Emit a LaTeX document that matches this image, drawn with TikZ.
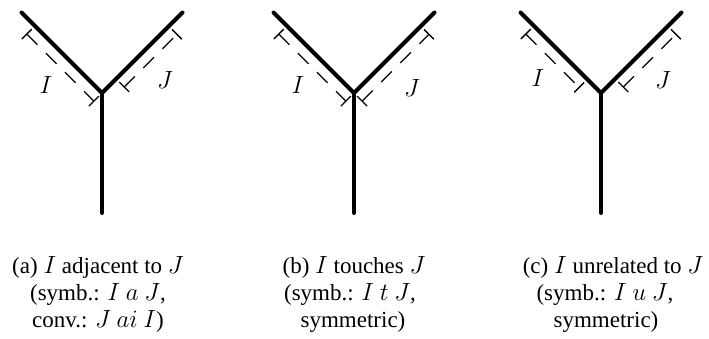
\documentclass[tikz,border=0pt]{standalone}
\usepackage{fontspec}
\setmainfont{Liberation Serif}
\usetikzlibrary{calc}
\tikzset{
  arm/.style={line width=4pt, line cap=round, line join=round},
  ivline/.style={line width=1.3pt, dash pattern=on 15pt off 12pt},
  ivtick/.style={line width=1.3pt},
  lbl/.style={inner sep=0pt, font=\fontsize{24}{24.5}\selectfont},
  captext/.style={inner sep=0pt, anchor=base, font=\fontsize{23}{27}\selectfont},
}
\newcommand\ivl[4]{%
  \coordinate (s1) at ($(#1)!#3!(#2)$);
  \coordinate (s2) at ($(#1)!#4!(#2)$);
  \coordinate (oa) at ($(#1)!4.5pt!-90:(#2)$);
  \coordinate (ob) at ($(#1)!11.5pt!-90:(#2)$);
  \coordinate (oc) at ($(#1)!18.5pt!-90:(#2)$);
  \draw[ivline] ($(s1)+(ob)-(#1)$) -- ($(s2)+(ob)-(#1)$);
  \draw[ivtick] ($(s1)+(oa)-(#1)$) -- ($(s1)+(oc)-(#1)$);
  \draw[ivtick] ($(s2)+(oa)-(#1)$) -- ($(s2)+(oc)-(#1)$);
}
\begin{document}
\begin{tikzpicture}[x=1pt,y=-1pt]
\useasboundingbox (0,0) rectangle (709,338);
% (a)
\coordinate (aTL) at (21.5,12.5);
\coordinate (aTR) at (182.5,12.5);
\coordinate (aC) at (102,93);
\coordinate (aB) at (102,213);
\draw[arm] (aTL) -- (aC) -- (aTR);
\draw[arm] (aC) -- (aB);
\ivl{aTL}{aC}{19pt}{1}
\ivl{aC}{aTR}{20pt}{94.5pt}
\node[lbl] (aI) at (46,85) {$I$};
\node[lbl] (aJ) at (165,80) {$J$};
\node[captext] (ac1) at (98,273) {(a) $I$ adjacent to $J$};
\node[captext] (ac2) at (98,300) {(symb.: $I\ a\ J$,};
\node[captext] (ac3) at (98,327) {conv.: $J\ ai\ I$)};
% (b)
\coordinate (bTL) at (273.5,12.5);
\coordinate (bTR) at (434.5,12.5);
\coordinate (bC) at (354,93);
\coordinate (bB) at (354,213);
\draw[arm] (bTL) -- (bC) -- (bTR);
\draw[arm] (bC) -- (bB);
\ivl{bTL}{bC}{19pt}{1}
\ivl{bC}{bTR}{0pt}{94.5pt}
\node[lbl] (bI) at (298,85) {$I$};
\node[lbl] (bJ) at (412,88) {$J$};
\node[captext] (bc1) at (354,273) {(b) $I$ touches $J$};
\node[captext] (bc2) at (350,300) {(symb.: $I\ t\ J$,};
\node[captext] (bc3) at (353,327) {symmetric)};
% (c)
\coordinate (cTL) at (520.5,12.5);
\coordinate (cTR) at (681.5,12.5);
\coordinate (cC) at (601,93);
\coordinate (cB) at (601,213);
\draw[arm] (cTL) -- (cC) -- (cTR);
\draw[arm] (cC) -- (cB);
\ivl{cTL}{cC}{19pt}{94.5pt}
\ivl{cC}{cTR}{20pt}{94.5pt}
\node[lbl] (cI) at (538,78) {$I$};
\node[lbl] (cJ) at (663,80) {$J$};
\node[captext] (cc1) at (613,273) {(c) $I$ unrelated to $J$};
\node[captext] (cc2) at (605,300) {(symb.: $I\ u\ J$,};
\node[captext] (cc3) at (606,327) {symmetric)};
\end{tikzpicture}
\end{document}
